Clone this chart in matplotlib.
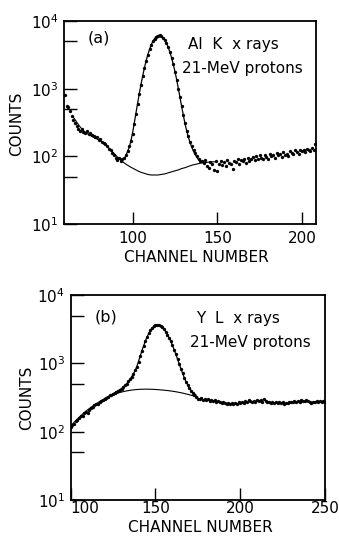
import matplotlib
matplotlib.use("Agg")
import matplotlib.pyplot as plt
from matplotlib.ticker import FixedLocator, NullFormatter

# ---------------- Panel (a): Al K x rays ----------------
chan_a = list(range(60, 209))
counts_a = [
    800, 560, 540, 470, 400, 350, 310, 285, 255, 240,
    250, 232, 220, 238, 212, 222, 205, 198, 190, 196,
    176, 182, 165, 160, 150, 142, 128, 124, 112, 104,
    96, 88, 96, 84, 90, 96, 104, 120, 140, 170,
    215, 300, 420, 600, 840, 1150, 1540, 2000, 2560, 3150,
    3800, 4400, 5000, 5500, 5850, 6100, 6150, 6000, 5700, 5250,
    4700, 4100, 3450, 2850, 2280, 1780, 1350, 1000, 760, 560,
    410, 310, 240, 200, 165, 140, 125, 112, 100, 92,
    86, 84, 80, 88, 72, 68, 82, 76, 62, 84,
    60, 78, 86, 74, 82, 72, 88, 80, 76, 64,
    86, 82, 92, 78, 88, 84, 90, 80, 94, 86,
    92, 98, 88, 100, 92, 104, 96, 90, 106, 98,
    92, 110, 100, 106, 96, 112, 104, 108, 98, 116,
    106, 110, 102, 118, 112, 108, 122, 114, 110, 126,
    118, 124, 114, 130, 122, 118, 132, 124, 150,
]

fit_a_chan = list(range(93, 142))
fit_a = [
    90, 91, 92, 102, 118, 135, 170, 223, 311, 438,
    616, 857, 1170, 1560, 2035, 2585, 3185, 3810, 4440, 5030,
    5520, 5890, 6110, 6150, 6020, 5720, 5280, 4720, 4100, 3480,
    2870, 2300, 1800, 1370, 1010, 740, 540, 400, 300, 235,
    190, 158, 135, 118, 106, 96, 89, 84, 81,
]

bg_a_chan = list(range(65, 150, 2))
bg_a = [
    380, 320, 272, 240, 218, 203, 191, 180, 169, 155,
    140, 125, 111, 98, 88, 80, 74, 69, 65, 61,
    58, 56, 54, 53, 53, 53, 54, 55, 57, 59,
    61, 63, 66, 68, 71, 74, 76, 78, 80, 81,
    82, 83, 83,
]

# ---------------- Panel (b): Y L x rays ----------------
chan_b = list(range(100, 251))
counts_b = [
    118, 125, 130, 142, 148, 160, 172, 168, 185, 195,
    190, 210, 222, 228, 245, 250, 258, 275, 285, 290,
    305, 312, 320, 340, 345, 360, 372, 385, 400, 410,
    428, 448, 480, 500, 545, 580, 640, 700, 790, 890,
    1060, 1270, 1520, 1790, 2100, 2430, 2750, 3050, 3300, 3480,
    3620, 3660, 3620, 3520, 3360, 3150, 2900, 2640, 2370, 2100,
    1830, 1580, 1350, 1150, 975, 830, 710, 615, 540, 480,
    435, 395, 365, 340, 318, 305, 300, 310, 292, 300,
    288, 296, 284, 290, 280, 286, 272, 278, 270, 266,
    272, 262, 258, 264, 255, 260, 252, 262, 256, 270,
    262, 275, 266, 282, 272, 286, 278, 270, 284, 276,
    292, 280, 288, 272, 300, 284, 268, 276, 264, 270,
    262, 272, 266, 276, 262, 270, 258, 266, 262, 270,
    276, 268, 280, 272, 284, 276, 290, 280, 284, 292,
    282, 272, 262, 276, 268, 282, 274, 278, 270, 284,
    276,
]

fit_b_chan = list(range(120, 175))
fit_b = [
    305, 314, 325, 336, 348, 360, 372, 385, 398, 413,
    430, 450, 475, 505, 540, 585, 640, 705, 785, 900,
    1065, 1280, 1530, 1800, 2100, 2420, 2730, 3030, 3280, 3470,
    3600, 3640, 3610, 3510, 3360, 3160, 2920, 2660, 2380, 2110,
    1840, 1585, 1357, 1154, 980, 833, 714, 617, 541, 482,
    437, 403, 377, 358, 343,
]

bg_b_chan = list(range(100, 176, 3))
bg_b = [
    122, 145, 172, 200, 228, 256, 285, 313, 340, 362,
    380, 395, 406, 414, 418, 419, 417, 413, 407, 400,
    391, 380, 367, 352, 336, 320,
]

ytick_vals = [10, 100, 1000, 10000]
ytick_text = [r"$10^{1}$", r"$10^{2}$", r"$10^{3}$", r"$10^{4}$"]
yminor_vals = [50, 500, 5000]

W, H = 339, 539
fig = plt.figure(figsize=(W / 100, H / 100), dpi=100)
plt.rcParams["font.family"] = ["DejaVu Sans"]
plt.rcParams["mathtext.fontset"] = "dejavusans"

FS = 11


def style_axes(ax, xlim, xticks, xpad):
    ax.set_yscale("log")
    ax.set_ylim(10, 10000)
    ax.set_xlim(*xlim)
    ax.set_xticks(xticks)
    ax.set_xticklabels([str(t) for t in xticks])
    ax.yaxis.set_major_locator(FixedLocator(ytick_vals))
    ax.set_yticklabels(ytick_text)
    ax.yaxis.set_minor_locator(FixedLocator(yminor_vals))
    ax.yaxis.set_minor_formatter(NullFormatter())
    ax.tick_params(axis="both", which="both", direction="in", length=9,
                   width=1.0, top=False, right=False, labelsize=FS,
                   colors="black")
    ax.tick_params(axis="x", pad=xpad)
    ax.tick_params(axis="y", pad=4)
    for s in ax.spines.values():
        s.set_linewidth(1.3)


def px(x, y):
    return x / W, 1 - y / H


# panel (a)
ax1 = fig.add_axes([64 / W, 1 - 224 / H, 252 / W, 203 / H])
ax1.plot(chan_a, counts_a, "o", ms=2.4, color="black", mec="none")
ax1.plot(fit_a_chan, fit_a, "-", lw=0.9, color="black")
ax1.plot(bg_a_chan, bg_a, "-", lw=0.8, color="black")
style_axes(ax1, (59.5, 208.3), [100, 150, 200], 5)
fig.text(*px(17, 124), "COUNTS", rotation=90, ha="center", va="center", fontsize=FS)
fig.text(*px(196, 258), "CHANNEL NUMBER", ha="center", va="center", fontsize=FS)
fig.text(*px(99, 38), "(a)", ha="center", va="center", fontsize=11.5)
fig.text(*px(233, 45), "Al  K  x rays", ha="center", va="center", fontsize=FS)
fig.text(*px(242, 68), "21-MeV protons", ha="center", va="center", fontsize=FS)

# panel (b)
ax2 = fig.add_axes([70.7 / W, 1 - 500 / H, 254.3 / W, 205 / H])
ax2.plot(chan_b, counts_b, "o", ms=2.4, color="black", mec="none")
ax2.plot(fit_b_chan, fit_b, "-", lw=0.9, color="black")
ax2.plot(bg_b_chan, bg_b, "-", lw=0.8, color="black")
style_axes(ax2, (100, 250), [100, 150, 200, 250], 1)
# first channel label sits just right of the corner, clear of the 10^1 label
ax2.get_xticklabels()[0].set_horizontalalignment("left")
fig.text(*px(27, 398), "COUNTS", rotation=90, ha="center", va="center", fontsize=FS)
fig.text(*px(200, 527), "CHANNEL NUMBER", ha="center", va="center", fontsize=FS)
fig.text(*px(106, 317), "(b)", ha="center", va="center", fontsize=11.5)
fig.text(*px(238, 319), "Y  L  x rays", ha="center", va="center", fontsize=FS)
fig.text(*px(250, 343), "21-MeV protons", ha="center", va="center", fontsize=FS)

fig.savefig("out.png", dpi=100, facecolor="white")
